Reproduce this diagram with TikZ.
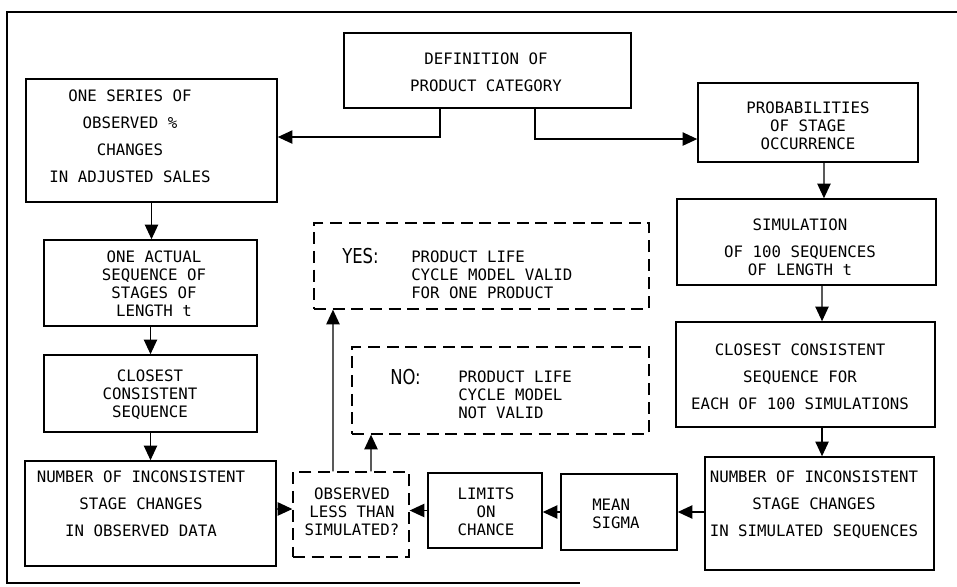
\documentclass[tikz,border=0pt]{standalone}
\usepackage{fontspec}
\newfontfamily\typefont{DejaVu Sans Mono}
\newfontfamily\answerfont[FakeStretch=0.8]{DejaVu Sans}
\usetikzlibrary{arrows.meta}

\begin{document}
\begin{tikzpicture}[x=0.75pt,y=-0.75pt,
    block/.style={draw,line width=1.1pt,inner sep=0pt},
    choice/.style={draw,line width=1pt,dash pattern=on 9pt off 5pt,inner sep=0pt},
    wide/.style={align=center,inner sep=0pt,font=\typefont\fontsize{11.8}{20.25}\selectfont},
    tight/.style={align=center,inner sep=0pt,font=\typefont\fontsize{11.8}{13.6}\selectfont},
    answer/.style={inner sep=0pt,font=\answerfont\fontsize{15.4}{18}\selectfont},
    arr/.style={-{Triangle[length=11pt,width=10pt]},line width=1pt}
]
\useasboundingbox (0,0) rectangle (957,586);
\draw[line width=1.2pt] (957,12) -- (7,12) -- (7,583) -- (580,583);

% boxes
\node[block,minimum width=215.3pt,minimum height=56.3pt] (def)    at (487.5,70.5) {};
\node[block,minimum width=188.3pt,minimum height=92.3pt] (series) at (151.5,140.5) {};
\node[block,minimum width=165pt,minimum height=59.3pt]   (prob)   at (808,122.5) {};
\node[block,minimum width=194.3pt,minimum height=64.5pt] (sim)    at (806.5,242) {};
\node[block,minimum width=159.8pt,minimum height=64.5pt] (actual) at (150.5,283) {};
\node[block,minimum width=159.8pt,minimum height=57.8pt] (closeL) at (150.5,393.5) {};
\node[block,minimum width=188.3pt,minimum height=78.8pt] (numL)   at (150.5,513.5) {};
\node[choice,minimum width=87pt,minimum height=63.8pt]   (obs)    at (351,514.5) {};
\node[choice,minimum width=251.3pt,minimum height=64.5pt] (yes)   at (481.5,266) {};
\node[choice,minimum width=222.8pt,minimum height=65.3pt] (no)    at (500.5,390.5) {};
\node[block,minimum width=85.5pt,minimum height=56.3pt]  (limits) at (485,510.5) {};
\node[block,minimum width=87pt,minimum height=57pt]      (mean)   at (619,512) {};
\node[block,minimum width=171.8pt,minimum height=84.8pt] (numR)   at (819.5,513.5) {};
\node[block,minimum width=194.3pt,minimum height=78.8pt] (closeR) at (805.5,374.5) {};

% texts
\node[wide]  (def-t)    at (486,72)    {DEFINITION OF\\PRODUCT CATEGORY};
\node[wide]  (series-t) at (130,136.5) {ONE SERIES OF\\OBSERVED \%\\CHANGES\\IN ADJUSTED SALES};
\node[tight] (prob-t)   at (808,126)   {PROBABILITIES\\OF STAGE\\OCCURRENCE};
\node[tight] (sim-t)    at (800,247.5) {SIMULATION\\[6.6pt]OF 100 SEQUENCES\\OF LENGTH t};
\node[tight] (actual-t) at (154,283.5) {ONE ACTUAL\\SEQUENCE OF\\STAGES OF\\LENGTH t};
\node[tight] (closeL-t) at (150,394.5) {CLOSEST\\CONSISTENT\\SEQUENCE};
\node[wide]  (numL-t)   at (141,504)   {NUMBER OF INCONSISTENT\\STAGE CHANGES\\IN OBSERVED DATA};
\node[tight] (obs-t)    at (352,512)   {OBSERVED\\LESS THAN\\SIMULATED?};
\node[tight] (limits-t) at (486,512)   {LIMITS\\ON\\CHANCE};
\node[tight,align=left,anchor=west] (mean-t) at (592,513.5) {MEAN\\SIGMA};
\node[wide]  (numR-t)   at (814,504.5) {NUMBER OF INCONSISTENT\\STAGE CHANGES\\IN SIMULATED SEQUENCES};
\node[wide]  (closeR-t) at (800,377)   {CLOSEST CONSISTENT\\SEQUENCE FOR\\EACH OF 100 SIMULATIONS};
\node[answer,anchor=west] (yes-k) at (342,256) {YES:};
\node[tight,align=left,anchor=west] (yes-t) at (411,275) {PRODUCT LIFE\\CYCLE MODEL VALID\\FOR ONE PRODUCT};
\node[answer,anchor=west] (no-k) at (390,377) {NO:};
\node[tight,align=left,anchor=west] (no-t) at (458,394.5) {PRODUCT LIFE\\CYCLE MODEL\\NOT VALID};

% connectors
\draw[arr] ([xshift=-35.6pt]def.south) |- ([yshift=2.6pt]series.east);
\draw[arr] ([xshift=35.6pt]def.south) |- ([yshift=-12.4pt]prob.west);
\draw[arr] ([xshift=12pt]prob.south) -- ([xshift=13.1pt]sim.north);
\draw[arr] ([xshift=11.6pt]sim.south) -- ([xshift=12.4pt]closeR.north);
\draw[arr] ([xshift=12.4pt]closeR.south) -- ([xshift=1.9pt]numR.north);
\draw[arr] (numR.west |- mean.east) -- (mean.east);
\draw[arr] (mean.west) -- (mean.west -| limits.east);
\draw[arr] (limits.west) -- (limits.west -| obs.east);
\draw[arr] ([yshift=3.4pt]numL.east) -- ([yshift=4.1pt]obs.west);
\draw[arr] (series.south) -- (series.south |- actual.north);
\draw[arr] (actual.south) -- (actual.south |- closeL.north);
\draw[arr] (closeL.south) -- (closeL.south |- numL.north);
\draw[arr] ([xshift=-13.5pt]obs.north) -- ([xshift=-111.4pt]yes.south);
\draw[arr] ([xshift=15pt]obs.north) -- ([xshift=-97.1pt]no.south);
\end{tikzpicture}
\end{document}
